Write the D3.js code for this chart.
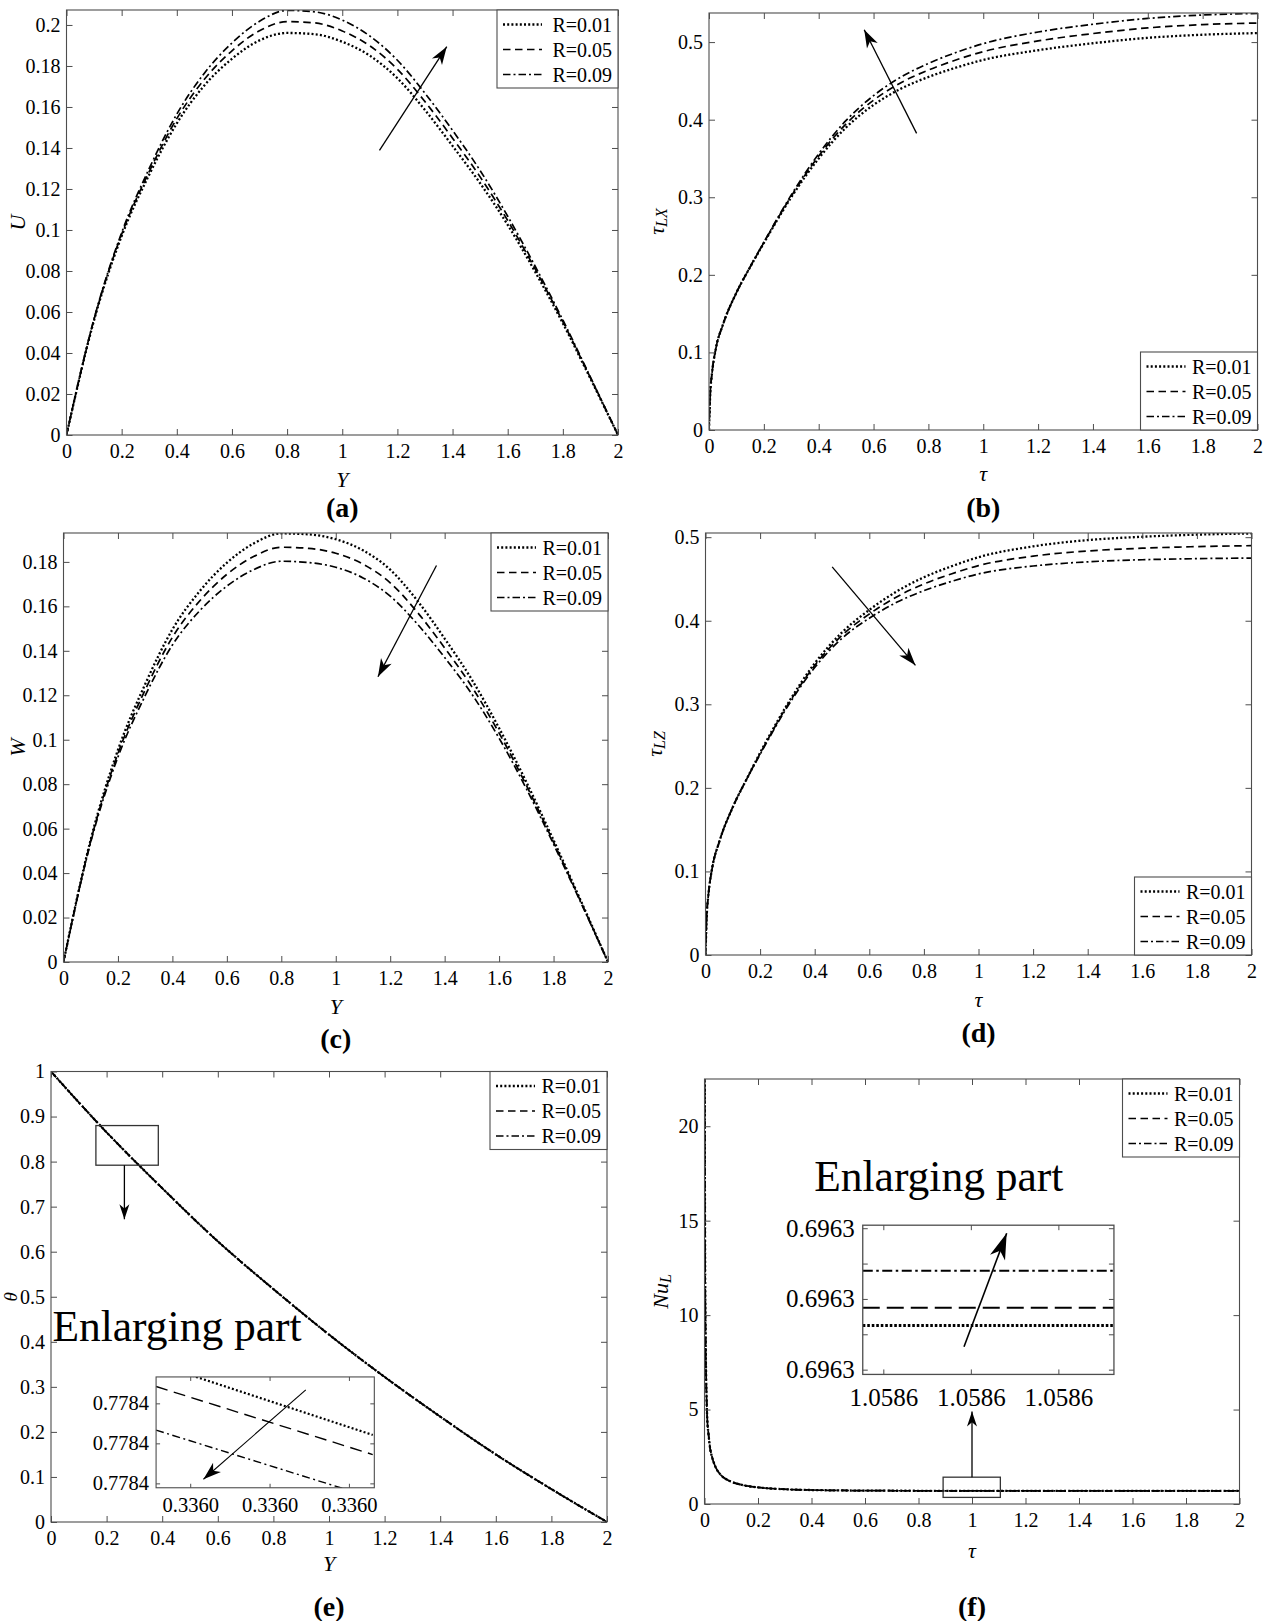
<!DOCTYPE html>
<html>
<head>
<meta charset="utf-8">
<script src="https://cdn.jsdelivr.net/npm/d3@7"></script>
<style>
  body { margin: 0; background: #fff; }
  svg { display: block; }
  svg text { font-family: "Liberation Serif", "Times New Roman", serif; fill: #000; }
</style>
</head>
<body>
<script>
// ---------- data ----------
const rLabels = ["R=0.01", "R=0.05", "R=0.09"];

// (a) U and (c) W against Y
const yGrid = [0, 0.1, 0.2, 0.3, 0.4, 0.5, 0.6, 0.7, 0.8, 0.9, 1, 1.1, 1.2, 1.3, 1.4, 1.5, 1.6, 1.7, 1.8, 1.9, 2];
const uR01 = [0, 0.056, 0.097, 0.127, 0.152, 0.1705, 0.1835, 0.1925, 0.1961, 0.1955, 0.1918, 0.185, 0.174, 0.1585, 0.141, 0.1228, 0.1025, 0.0795, 0.0545, 0.0275, 0];
const uR05 = [0, 0.0564, 0.0979, 0.1285, 0.1543, 0.1735, 0.1874, 0.1972, 0.2016, 0.201, 0.1971, 0.1898, 0.1784, 0.1626, 0.1448, 0.1259, 0.1046, 0.0809, 0.0553, 0.0279, 0];
const uR09 = [0, 0.0567, 0.0987, 0.130, 0.1565, 0.1765, 0.1912, 0.2018, 0.2071, 0.2064, 0.2024, 0.1946, 0.1828, 0.1667, 0.1486, 0.129, 0.1067, 0.0822, 0.0561, 0.0282, 0];
const wR01 = [0, 0.0551, 0.0954, 0.125, 0.1496, 0.1668, 0.1796, 0.1884, 0.1928, 0.1924, 0.1902, 0.1852, 0.1765, 0.1625, 0.1455, 0.127, 0.1052, 0.081, 0.0548, 0.0276, 0];
const wR05 = [0, 0.0545, 0.0938, 0.1224, 0.1461, 0.1624, 0.1744, 0.1825, 0.1866, 0.1861, 0.1839, 0.179, 0.1706, 0.1573, 0.1413, 0.1238, 0.103, 0.0795, 0.0539, 0.0272, 0];
const wR09 = [0, 0.0539, 0.0922, 0.1198, 0.1426, 0.158, 0.1691, 0.1766, 0.1803, 0.1797, 0.1776, 0.1728, 0.1646, 0.152, 0.137, 0.1205, 0.1007, 0.078, 0.053, 0.0268, 0];

// (b) tau_LX and (d) tau_LZ against tau
const tauGrid = [0, 0.005, 0.01, 0.025, 0.05, 0.1, 0.15, 0.2, 0.3, 0.4, 0.5, 0.6, 0.7, 0.8, 0.9, 1, 1.2, 1.4, 1.6, 1.8, 2];
const txR01 = [0, 0.05, 0.07, 0.105, 0.135, 0.177, 0.21, 0.241, 0.300, 0.350, 0.390, 0.419, 0.440, 0.455, 0.467, 0.477, 0.4895, 0.4985, 0.5055, 0.5095, 0.5116];
const txR05 = [0, 0.05, 0.07, 0.105, 0.135, 0.177, 0.21, 0.2415, 0.3015, 0.3531, 0.3946, 0.4251, 0.4477, 0.4639, 0.4769, 0.4877, 0.5015, 0.511, 0.5183, 0.5225, 0.5246];
const txR09 = [0, 0.05, 0.07, 0.105, 0.135, 0.177, 0.2103, 0.242, 0.303, 0.356, 0.399, 0.431, 0.455, 0.4725, 0.4865, 0.498, 0.513, 0.523, 0.5305, 0.5349, 0.537];
const tzR01 = [0, 0.05, 0.07, 0.105, 0.135, 0.177, 0.21, 0.242, 0.300, 0.349, 0.386, 0.413, 0.435, 0.452, 0.465, 0.476, 0.489, 0.4965, 0.5005, 0.503, 0.5045];
const tzR05 = [0, 0.05, 0.07, 0.105, 0.135, 0.177, 0.21, 0.241, 0.2985, 0.3465, 0.3825, 0.408, 0.4285, 0.444, 0.456, 0.466, 0.4773, 0.4835, 0.4868, 0.4887, 0.4898];
const tzR09 = [0, 0.05, 0.07, 0.105, 0.135, 0.177, 0.21, 0.24, 0.297, 0.344, 0.379, 0.403, 0.422, 0.436, 0.447, 0.456, 0.4655, 0.4705, 0.473, 0.4743, 0.475];

// (e) theta against Y (the three curves coincide at this scale)
const thetaGrid = [0, 0.2, 0.4, 0.6, 0.8, 1, 1.2, 1.4, 1.6, 1.8, 2];
const thR01 = [1, 0.865, 0.741, 0.623, 0.517, 0.416, 0.322, 0.234, 0.15, 0.073, 0];
const thR05 = [1, 0.865, 0.741, 0.623, 0.517, 0.416, 0.322, 0.234, 0.15, 0.073, 0];
const thR09 = [1, 0.865, 0.741, 0.623, 0.517, 0.416, 0.322, 0.234, 0.15, 0.073, 0];
// enlarged part of (e)
const zoomEY = [0.3359857, 0.336013];
const zoomThR01 = [0.7784199, 0.7784021];
const zoomThR05 = [0.7784142, 0.7783972];
const zoomThR09 = [0.7784033, 0.7783864];

// (f) Nu_L against tau
const nuTau = [0.0003, 0.001, 0.002, 0.004, 0.006, 0.008, 0.01, 0.015, 0.02, 0.03, 0.04, 0.06, 0.08, 0.1, 0.15, 0.2, 0.3, 0.4, 0.5, 0.6, 0.8, 1, 1.2, 1.6, 2];
const nuR01 = [40, 22, 14, 9, 6.8, 5.5, 4.6, 3.7, 3.05, 2.4, 2.0, 1.55, 1.32, 1.18, 0.98, 0.88, 0.78, 0.74, 0.72, 0.708, 0.70, 0.6965, 0.6963, 0.6963, 0.6963];
const nuR05 = [40, 22, 14, 9, 6.8, 5.5, 4.6, 3.7, 3.05, 2.4, 2.0, 1.55, 1.32, 1.18, 0.98, 0.88, 0.78, 0.74, 0.72, 0.708, 0.70, 0.6965, 0.6963, 0.6963, 0.6963];
const nuR09 = [40, 22, 14, 9, 6.8, 5.5, 4.6, 3.7, 3.05, 2.4, 2.0, 1.55, 1.32, 1.18, 0.98, 0.88, 0.78, 0.74, 0.72, 0.708, 0.70, 0.6965, 0.6963, 0.6963, 0.6963];
// enlarged part of (f)
const zoomFTau = [1.0585753, 1.0586327];
const zoomNuR01 = [0.6962985, 0.6962985];
const zoomNuR05 = [0.6962995, 0.6962995];
const zoomNuR09 = [0.6963016, 0.6963016];

// tick values
const xTicks = [0, 0.2, 0.4, 0.6, 0.8, 1, 1.2, 1.4, 1.6, 1.8, 2];
const uTicks = [0, 0.02, 0.04, 0.06, 0.08, 0.1, 0.12, 0.14, 0.16, 0.18, 0.2];
const wTicks = [0, 0.02, 0.04, 0.06, 0.08, 0.1, 0.12, 0.14, 0.16, 0.18];
const tauTicks = [0, 0.1, 0.2, 0.3, 0.4, 0.5];
const thetaTicks = [0, 0.1, 0.2, 0.3, 0.4, 0.5, 0.6, 0.7, 0.8, 0.9, 1];
const nuTicks = [0, 5, 10, 15, 20];
const zoomEXTicks = [0.33599, 0.33600, 0.33601];
const zoomEYTicks = [0.77839, 0.77840, 0.77841];
const zoomFXTicks = [1.05858, 1.05860, 1.05862];
const zoomFYTicks = [0.696296, 0.696298, 0.696300, 0.696302, 0.696304];

// ---------- drawing ----------
const frameColor = "#4d4d4d";
const svg = d3.select("body").append("svg").attr("width", 1271).attr("height", 1621);
svg.append("rect").attr("width", 1271).attr("height", 1621).attr("fill", "#fff");
const defs = svg.append("defs");

function marker(id, len, half) {
  defs.append("marker").attr("id", id)
    .attr("markerUnits", "userSpaceOnUse")
    .attr("viewBox", `${-len - 1} ${-half - 1} ${len + 2} ${2 * half + 2}`)
    .attr("refX", 0).attr("refY", 0)
    .attr("markerWidth", len + 2).attr("markerHeight", 2 * half + 2)
    .attr("orient", "auto")
    .append("path")
    .attr("d", `M0,0L${-len},${-half}L${-len * 0.72},0L${-len},${half}Z`)
    .attr("fill", "#000");
}
marker("head", 18, 6);
marker("headSmall", 15, 5);
marker("headBig", 26, 8);

const mainStyle = [
  { dash: "2,2.2", w: 2.3 },
  { dash: "7.5,4.5", w: 1.7 },
  { dash: "7.5,3,2,3", w: 1.7 }
];

function styleAxis(sel, size) {
  sel.attr("font-family", null).attr("font-size", null);
  sel.select(".domain").remove();
  sel.selectAll(".tick line").attr("stroke", frameColor);
  sel.selectAll(".tick text").attr("font-size", size).attr("fill", "#000");
}

function axes(g, x, y, box, o) {
  const tk = o.tk;
  g.append("g").attr("transform", `translate(0,${box.b})`)
    .call(d3.axisBottom(x).tickValues(o.xTicks).tickFormat(o.xFmt).tickSizeInner(-tk).tickSizeOuter(0).tickPadding(o.xPad))
    .call(s => styleAxis(s, o.font));
  g.append("g").attr("transform", `translate(0,${box.t})`)
    .call(d3.axisTop(x).tickValues(o.xTicks).tickFormat(() => "").tickSizeInner(-tk).tickSizeOuter(0))
    .call(s => styleAxis(s, o.font));
  g.append("g").attr("transform", `translate(${box.l},0)`)
    .call(d3.axisLeft(y).tickValues(o.yTicks).tickFormat(o.yFmt).tickSizeInner(-tk).tickSizeOuter(0).tickPadding(o.yPad))
    .call(s => styleAxis(s, o.font));
  g.append("g").attr("transform", `translate(${box.r},0)`)
    .call(d3.axisRight(y).tickValues(o.yTicks).tickFormat(() => "").tickSizeInner(-tk).tickSizeOuter(0))
    .call(s => styleAxis(s, o.font));
  g.append("rect").attr("x", box.l).attr("y", box.t)
    .attr("width", box.r - box.l).attr("height", box.b - box.t)
    .attr("fill", "none").attr("stroke", frameColor).attr("stroke-width", o.frameW || 1.1);
}

function curves(g, x, y, xs, ys, styles, cid) {
  const line = d3.line().x(d => x(d[0])).y(d => y(d[1])).curve(d3.curveMonotoneX);
  ys.forEach((vals, i) => {
    g.append("path")
      .datum(d3.zip(xs[i], vals))
      .attr("d", line)
      .attr("clip-path", `url(#${cid})`)
      .attr("fill", "none")
      .attr("stroke", "#000")
      .attr("stroke-width", styles[i].w)
      .attr("stroke-dasharray", styles[i].dash);
  });
}

function clip(id, box) {
  defs.append("clipPath").attr("id", id).append("rect")
    .attr("x", box.l).attr("y", box.t).attr("width", box.r - box.l).attr("height", box.b - box.t);
}

function legend(g, box, pos, w) {
  const h = 78;
  const x0 = box.r - w;
  const y0 = pos === "tr" ? box.t : box.b - h;
  g.append("rect").attr("x", x0).attr("y", y0).attr("width", w).attr("height", h)
    .attr("fill", "#fff").attr("stroke", frameColor).attr("stroke-width", 1.1);
  rLabels.forEach((lab, i) => {
    const cy = y0 + 14.5 + 25 * i;
    g.append("line").attr("x1", x0 + 6).attr("x2", x0 + 45).attr("y1", cy).attr("y2", cy)
      .attr("stroke", "#000").attr("stroke-width", mainStyle[i].w).attr("stroke-dasharray", mainStyle[i].dash);
    g.append("text").attr("x", box.r - 6).attr("y", cy).attr("text-anchor", "end")
      .attr("dominant-baseline", "central").attr("font-size", 20).text(lab);
  });
}

function yLabel(g, x, y, parts, size) {
  const t = g.append("text").attr("transform", `translate(${x},${y}) rotate(-90)`)
    .attr("text-anchor", "middle").attr("dominant-baseline", "central").attr("font-size", size || 22);
  parts.forEach(p => {
    const s = t.append("tspan").attr("font-style", "italic").text(p.t);
    if (p.sub) s.attr("font-size", 16).attr("dy", 5);
  });
}

function arrow(g, x1, y1, x2, y2, m, w) {
  g.append("line").attr("x1", x1).attr("y1", y1).attr("x2", x2).attr("y2", y2)
    .attr("stroke", "#000").attr("stroke-width", w || 1.3).attr("marker-end", `url(#${m || "head"})`);
}

const fmtPlain = d => String(d);

function panel(p) {
  const g = svg.append("g");
  const x = d3.scaleLinear().domain(p.xDom).range([p.box.l, p.box.r]);
  const y = d3.scaleLinear().domain(p.yDom).range([p.box.b, p.box.t]);
  const cid = "clip-" + p.id;
  clip(cid, p.box);
  curves(g, x, y, p.xs, p.ys, mainStyle, cid);
  axes(g, x, y, p.box, { tk: 6, xTicks: xTicks, yTicks: p.yTicks, xFmt: fmtPlain, yFmt: fmtPlain, xPad: 9, yPad: 6, font: 20 });
  legend(g, p.box, p.legendPos, p.legendW);
  const cx = (p.box.l + p.box.r) / 2;
  g.append("text").attr("x", cx).attr("y", p.xLabY).attr("text-anchor", "middle")
    .attr("dominant-baseline", "central").attr("font-size", 22).attr("font-style", "italic").text(p.xLab);
  yLabel(g, p.yLabX, (p.box.t + p.box.b) / 2, p.yLab, p.yLabSize);
  g.append("text").attr("x", cx).attr("y", p.capY).attr("text-anchor", "middle")
    .attr("dominant-baseline", "central").attr("font-size", 28).attr("font-weight", "bold").text(p.cap);
  return { g, x, y };
}

// (a)
const A = panel({
  id: "a", box: { l: 66.5, r: 618, t: 10, b: 435 }, xDom: [0, 2], yDom: [0, 0.2073],
  yTicks: uTicks, xs: [yGrid, yGrid, yGrid], ys: [uR01, uR05, uR09],
  legendPos: "tr", legendW: 121, xLab: "Y", xLabY: 479, yLab: [{ t: "U" }], yLabX: 17, cap: "(a)", capY: 507
});
arrow(A.g, A.x(1.135), A.y(0.1388), A.x(1.379), A.y(0.1894));

// (b)
const B = panel({
  id: "b", box: { l: 709, r: 1257.5, t: 13, b: 430 }, xDom: [0, 2], yDom: [0, 0.5375],
  yTicks: tauTicks, xs: [tauGrid, tauGrid, tauGrid], ys: [txR01, txR05, txR09],
  legendPos: "br", legendW: 117, xLab: "τ", xLabY: 473, yLab: [{ t: "τ" }, { t: "LX", sub: true }], yLabX: 656, cap: "(b)", capY: 507
});
arrow(B.g, B.x(0.757), B.y(0.3823), B.x(0.566), B.y(0.516));

// (c)
const C = panel({
  id: "c", box: { l: 63.5, r: 608, t: 533, b: 962 }, xDom: [0, 2], yDom: [0, 0.193],
  yTicks: wTicks, xs: [yGrid, yGrid, yGrid], ys: [wR01, wR05, wR09],
  legendPos: "tr", legendW: 117, xLab: "Y", xLabY: 1006, yLab: [{ t: "W" }], yLabX: 16.5, cap: "(c)", capY: 1038
});
arrow(C.g, C.x(1.37), C.y(0.1784), C.x(1.155), C.y(0.1283));

// (d)
const D = panel({
  id: "d", box: { l: 705.5, r: 1251.5, t: 533, b: 955 }, xDom: [0, 2], yDom: [0, 0.505],
  yTicks: tauTicks, xs: [tauGrid, tauGrid, tauGrid], ys: [tzR01, tzR05, tzR09],
  legendPos: "br", legendW: 117, xLab: "τ", xLabY: 999, yLab: [{ t: "τ" }, { t: "LZ", sub: true }], yLabX: 654, cap: "(d)", capY: 1032
});
arrow(D.g, D.x(0.464), D.y(0.4645), D.x(0.769), D.y(0.3466));

// (e)
const E = panel({
  id: "e", box: { l: 51, r: 607, t: 1071.5, b: 1522 }, xDom: [0, 2], yDom: [0, 1],
  yTicks: thetaTicks, xs: [thetaGrid, thetaGrid, thetaGrid], ys: [thR01, thR05, thR09],
  legendPos: "tr", legendW: 117, xLab: "Y", xLabY: 1563, yLab: [{ t: "θ" }], yLabSize: 19, yLabX: 10, cap: "(e)", capY: 1606
});
E.g.append("rect").attr("x", E.x(0.1615)).attr("y", E.y(0.88))
  .attr("width", E.x(0.386) - E.x(0.1615)).attr("height", E.y(0.792) - E.y(0.88))
  .attr("fill", "none").attr("stroke", "#333").attr("stroke-width", 1.3);
arrow(E.g, E.x(0.264), E.y(0.792), E.x(0.264), E.y(0.672), "headSmall");
E.g.append("text").attr("x", E.x(0.005)).attr("y", E.y(0.401)).attr("font-size", 43.5).text("Enlarging part");

// inset of (e)
{
  const box = { l: E.x(0.378), r: E.x(1.163), t: E.y(0.322), b: E.y(0.076) };
  const x = d3.scaleLinear().domain([0.3359857, 0.3360132]).range([box.l, box.r]);
  const y = d3.scaleLinear().domain([0.7783889, 0.7784166]).range([box.b, box.t]);
  const g = svg.append("g");
  g.append("rect").attr("x", box.l).attr("y", box.t).attr("width", box.r - box.l).attr("height", box.b - box.t).attr("fill", "#fff");
  clip("clip-ein", box);
  curves(g, x, y, [zoomEY, zoomEY, zoomEY], [zoomThR01, zoomThR05, zoomThR09],
    [{ dash: "2,2.2", w: 2.2 }, { dash: "12,6.5", w: 1.4 }, { dash: "8,3.5,2,3.5", w: 1.4 }], "clip-ein");
  axes(g, x, y, box, { tk: 4, xTicks: zoomEXTicks, yTicks: zoomEYTicks, xFmt: d3.format(".4f"), yFmt: d3.format(".4f"), xPad: 10, yPad: 7, font: 20.5 });
  const w = box.r - box.l, h = box.b - box.t;
  arrow(g, box.l + 0.686 * w, box.b - 0.883 * h, box.l + 0.217 * w, box.b - 0.077 * h, "head", 1.1);
}

// (f)
const F = panel({
  id: "f", box: { l: 704.5, r: 1239.5, t: 1079, b: 1504 }, xDom: [0, 2], yDom: [0, 22.5],
  yTicks: nuTicks, xs: [nuTau, nuTau, nuTau], ys: [nuR01, nuR05, nuR09],
  legendPos: "tr", legendW: 117, xLab: "τ", xLabY: 1550, yLab: [{ t: "Nu" }, { t: "L", sub: true }], yLabX: 660, cap: "(f)", capY: 1606
});
F.g.append("rect").attr("x", F.x(0.892)).attr("y", F.y(1.42))
  .attr("width", F.x(1.106) - F.x(0.892)).attr("height", F.y(0.35) - F.y(1.42))
  .attr("fill", "none").attr("stroke", "#333").attr("stroke-width", 1.3);
arrow(F.g, F.x(1.0), F.y(1.42), F.x(1.0), F.y(4.9), "headSmall");
F.g.append("text").attr("x", F.x(0.41)).attr("y", F.y(16.57)).attr("font-size", 43.5).text("Enlarging part");

// inset of (f)
{
  const box = { l: F.x(0.5916), r: F.x(1.5306), t: F.y(14.76), b: F.y(6.86) };
  const x = d3.scaleLinear().domain([1.0585753, 1.0586327]).range([box.l, box.r]);
  const y = d3.scaleLinear().domain([0.69629573, 0.69630417]).range([box.b, box.t]);
  const g = svg.append("g");
  g.append("rect").attr("x", box.l).attr("y", box.t).attr("width", box.r - box.l).attr("height", box.b - box.t).attr("fill", "#fff");
  clip("clip-fin", box);
  curves(g, x, y, [zoomFTau, zoomFTau, zoomFTau], [zoomNuR01, zoomNuR05, zoomNuR09],
    [{ dash: "2.6,1.9", w: 3 }, { dash: "17,7", w: 2 }, { dash: "10,3.5,2.5,3.5", w: 2 }], "clip-fin");
  const yFmt = (d, i) => (i % 2 === 0 ? d3.format(".4f")(d) : "");
  axes(g, x, y, box, { tk: 5, xTicks: zoomFXTicks, yTicks: zoomFYTicks, xFmt: d3.format(".4f"), yFmt: yFmt, xPad: 14, yPad: 8, font: 25, frameW: 1.3 });
  const w = box.r - box.l, h = box.b - box.t;
  arrow(g, box.l + 0.403 * w, box.b - 0.185 * h, box.l + 0.573 * w, box.b - 0.946 * h, "headBig", 1.6);
}
</script>
</body>
</html>
